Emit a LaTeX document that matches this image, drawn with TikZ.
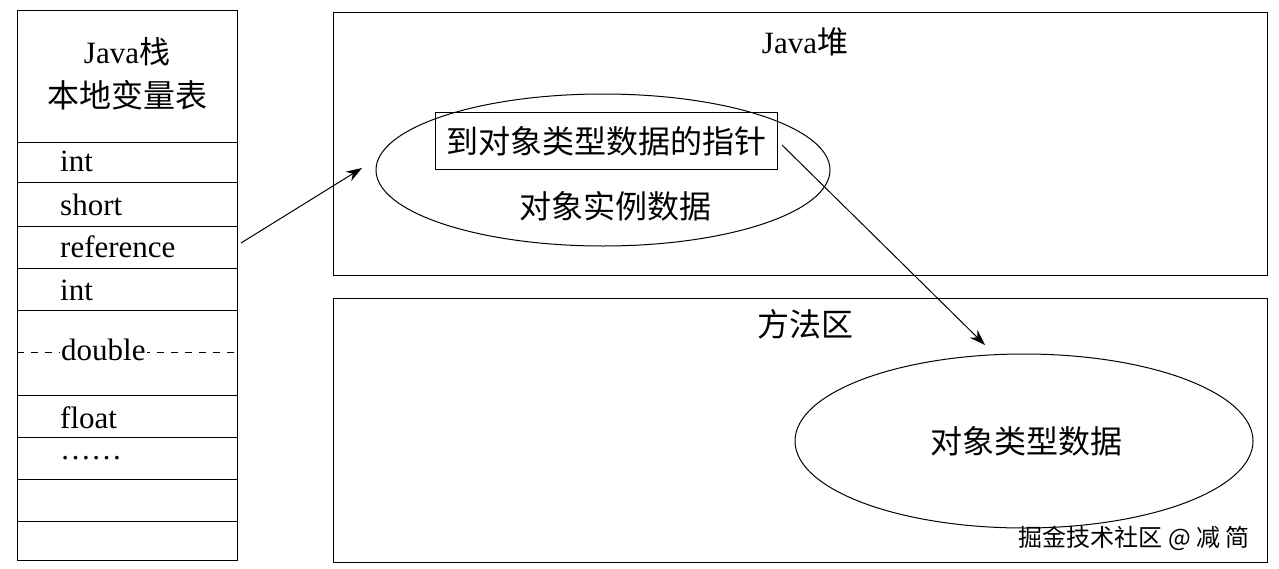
\documentclass[tikz,border=0pt]{standalone}
\usepackage{fontspec}
\usetikzlibrary{shapes.geometric,arrows.meta}
\setmainfont{Liberation Serif}
\newfontfamily\cjk{Noto Sans CJK SC}
\begin{document}
\begin{tikzpicture}[x=1pt,y=-1pt,
  box/.style={draw,line width=1pt},
  lat/.style={font=\fontsize{31}{34}\selectfont,anchor=west,inner sep=0},
  zh/.style={font=\cjk\fontsize{32}{36}\selectfont,inner sep=0},
  arr/.style={-{Stealth[length=16pt,width=11pt]},line width=1pt}]
\useasboundingbox[fill=white] (0,0) rectangle (1279,568);
\draw[box] (17,10) rectangle (237,560);
\foreach \y in {142,182,226,268,310,395,437,479,521} \draw[line width=1pt] (17,\y)--(237,\y);
\draw[dash pattern=on 7pt off 7pt,line width=0.8pt] (17,352)--(237,352);
\node[font=\fontsize{31}{34}\selectfont,inner sep=0] (jt) at (127,52) {Java\cjk 栈};
\node[zh] (lv) at (127,95) {本地变量表};
\node[lat] (i1) at (60,161) {int};
\node[lat] (sh) at (60,205) {short};
\node[lat] (ref) at (60,247) {reference};
\node[lat] (i2) at (60,290) {int};
\node[lat,fill=white,inner sep=1pt] (db) at (60,350) {double};
\node[lat] (fl) at (60,418) {float};
\node[lat] (dots) at (60,458) {……};
\coordinate (refR) at (241,243);
\draw[box] (333,12) rectangle (1267,275);
\node[font=\fontsize{31}{34}\selectfont,inner sep=0] (heap) at (805,42) {Java\cjk 堆};
\node[draw,ellipse,line width=1pt,minimum width=454,minimum height=152] (e1) at (603,170) {};
\node[draw,line width=1pt,minimum width=342,minimum height=57,zh] (ptr) at (606,141) {到对象类型数据的指针};
\node[zh] (inst) at (615,206) {对象实例数据};
\draw[box] (333,298) rectangle (1267,562);
\node[zh] (ma) at (805,324) {方法区};
\node[draw,ellipse,line width=1pt,minimum width=458,minimum height=174] (e2) at (1024,441) {};
\node[zh] (td) at (1026,441) {对象类型数据};
\coordinate (a1) at (362,168);
\coordinate (p1) at (782,145);
\coordinate (a2) at (985,345);
\draw[arr] (refR)--(a1);
\draw[arr] (p1)--(a2);
\node[font=\cjk\fontsize{24}{26}\selectfont,inner sep=0,anchor=east] (wm) at (1250,538) {掘金技术社区 @ 减 简};
\end{tikzpicture}
\end{document}
